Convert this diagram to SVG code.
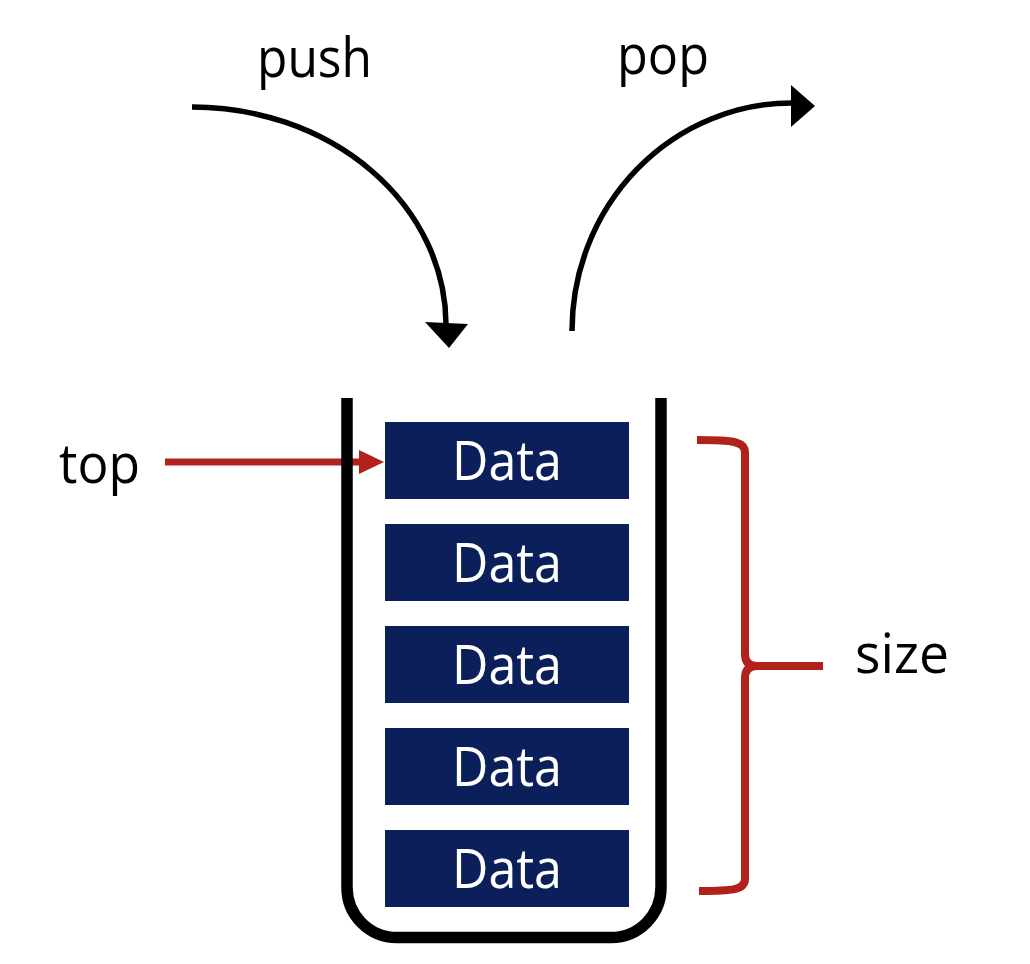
<svg xmlns="http://www.w3.org/2000/svg" width="1030" height="964" viewBox="0 0 1030 964">
  <style>
    .label { font-family: "Open Sans", "Noto Sans", "Liberation Sans", sans-serif; font-size: 54px; fill: #000; }
    .cell rect { fill: #0b1f5b; }
    .cell text { font-family: "Open Sans", "Noto Sans", "Liberation Sans", sans-serif; font-size: 54px; fill: #fff; text-anchor: middle; }
    .flow { fill: none; stroke: #000; stroke-width: 5.5; }
    .red { fill: none; stroke: #b0221b; }
  </style>
  <rect width="1030" height="964" fill="#fff"/>

  <!-- push / pop / top connectors -->
  <g id="connectors">
    <path class="flow" d="M192,107 A254 218 0 0 1 446,324"/>
    <polygon points="425,322 468,324 449,348" fill="#000"/>
    <path class="flow" d="M572,331 A220 228 0 0 1 793,103"/>
    <polygon points="791,85 815,106 791,127" fill="#000"/>
    <line class="red" x1="165" y1="462" x2="362" y2="462" stroke-width="7"/>
    <polygon points="359,450 384,462 359,474" fill="#b0221b"/>
  </g>

  <!-- stack container -->
  <g id="stack">
    <path d="M347,398 V887 A50 50 0 0 0 397,937.5 H611 A50 50 0 0 0 661,887 V398" fill="none" stroke="#000" stroke-width="11.5"/>
  </g>

  <!-- stacked elements -->
  <g id="cell1" class="cell"><rect x="385" y="422" width="244" height="77"/><text x="507" y="480" textLength="110" lengthAdjust="spacingAndGlyphs">Data</text></g>
  <g id="cell2" class="cell"><rect x="385" y="524" width="244" height="77"/><text x="507" y="582" textLength="110" lengthAdjust="spacingAndGlyphs">Data</text></g>
  <g id="cell3" class="cell"><rect x="385" y="626" width="244" height="77"/><text x="507" y="684" textLength="110" lengthAdjust="spacingAndGlyphs">Data</text></g>
  <g id="cell4" class="cell"><rect x="385" y="728" width="244" height="77"/><text x="507" y="786" textLength="110" lengthAdjust="spacingAndGlyphs">Data</text></g>
  <g id="cell5" class="cell"><rect x="385" y="830" width="244" height="77"/><text x="507" y="888" textLength="110" lengthAdjust="spacingAndGlyphs">Data</text></g>

  <!-- size brace -->
  <g id="size-brace">
    <path class="red" stroke-width="8" d="M697,440 C732,440 745,441 745,453 V654 Q745,666 757,666 H823"/>
    <path class="red" stroke-width="8" d="M757,666 Q745,666 745,678 V879 C745,890 732,891 699,891"/>
  </g>

  <!-- labels -->
  <g id="label-push"><text class="label" x="257" y="77" textLength="115" lengthAdjust="spacingAndGlyphs">push</text></g>
  <g id="label-pop"><text class="label" x="617" y="74" textLength="92" lengthAdjust="spacingAndGlyphs">pop</text></g>
  <g id="label-top"><text class="label" x="59" y="483" textLength="81" lengthAdjust="spacingAndGlyphs">top</text></g>
  <g id="label-size"><text class="label" x="855" y="673" textLength="94" lengthAdjust="spacingAndGlyphs">size</text></g>
</svg>
